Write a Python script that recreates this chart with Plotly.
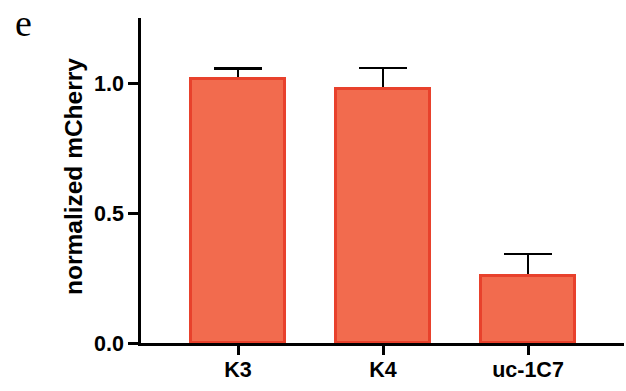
import plotly.graph_objects as go

# Normalized mCherry signal per clone (mean with SEM)
clones = ["K3", "K4", "uc-1C7"]
mcherry_mean = [1.015, 0.976, 0.259]
mcherry_err = [0.040, 0.081, 0.083]
y_tick_vals = [0.0, 0.5, 1.0]
y_tick_text = ["0.0", "0.5", "1.0"]

W, H = 626, 391
L, R, T, B = 141, 2, 18, 48
plot_w = W - L - R
plot_h = H - T - B

bar_fill = "#F26B4E"
bar_edge = "#E8412C"
bar_width = 0.645
tick_font = dict(family="Liberation Sans", size=21.5, color="black", weight="bold")

fig = go.Figure()

# Error bars go in a transparent bar trace underneath, so the lower
# half of each whisker is hidden behind the solid bar drawn on top.
fig.add_trace(
    go.Bar(
        x=clones,
        y=mcherry_mean,
        width=bar_width,
        marker=dict(color="rgba(0,0,0,0)", line=dict(width=0)),
        error_y=dict(
            type="data",
            array=mcherry_err,
            color="black",
            thickness=2.6,
            width=24,
        ),
        hoverinfo="skip",
    )
)
fig.add_trace(
    go.Bar(
        x=clones,
        y=mcherry_mean,
        width=bar_width,
        marker=dict(color=bar_fill, line=dict(color=bar_edge, width=3)),
    )
)

fig.update_layout(
    width=W,
    height=H,
    margin=dict(l=L, r=R, t=T, b=B, pad=0),
    paper_bgcolor="white",
    plot_bgcolor="white",
    showlegend=False,
    barmode="overlay",
    bargap=0,
)

fig.update_xaxes(
    type="category",
    range=[-0.669, 2.662],
    showline=True,
    linecolor="black",
    linewidth=2.6,
    ticks="outside",
    ticklen=9,
    tickwidth=2.6,
    tickcolor="black",
    tickfont=tick_font,
    ticklabelstandoff=-4,
    showgrid=False,
    zeroline=False,
)

fig.update_yaxes(
    range=[0, 1.25],
    tickvals=y_tick_vals,
    ticktext=y_tick_text,
    showline=True,
    linecolor="black",
    linewidth=2.6,
    ticks="outside",
    ticklen=10,
    tickwidth=2.6,
    tickcolor="black",
    tickfont=tick_font,
    showgrid=False,
    zeroline=False,
)

# Axis title and panel letter
fig.add_annotation(
    text="normalized mCherry",
    textangle=-90,
    xref="paper", yref="paper",
    x=(73 - L) / plot_w, y=(H - B - 177) / plot_h,
    xanchor="center", yanchor="middle",
    showarrow=False,
    font=dict(family="Liberation Sans", size=24.5, color="black", weight="bold"),
)
fig.add_annotation(
    text="e",
    xref="paper", yref="paper",
    x=(23 - L) / plot_w, y=(H - B - 1) / plot_h,
    xanchor="center", yanchor="top",
    borderpad=0,
    showarrow=False,
    font=dict(family="Liberation Serif", size=38, color="black"),
)

fig.write_html("out.html")
